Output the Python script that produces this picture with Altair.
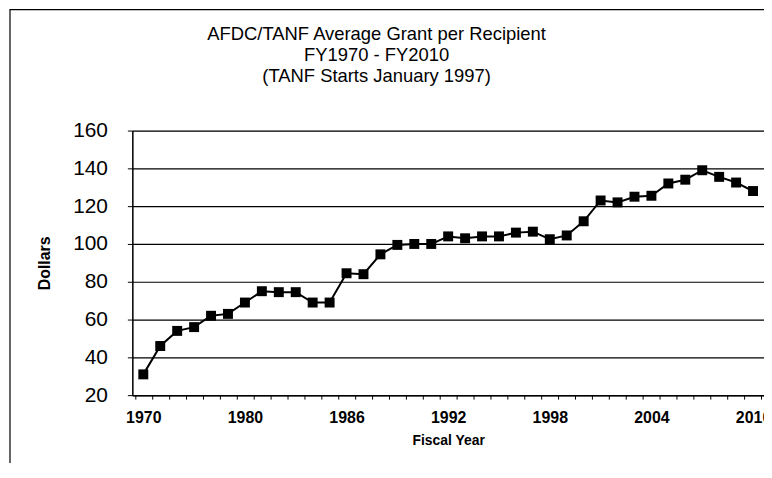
import altair as alt
import pandas as pd

# Fiscal-year categories (only some are labelled on the axis)
years = ["1970", "1975", "1976", "1977", "1978", "1979",
         "1980", "1981", "1982", "1983", "1984", "1985", "1986", "1987",
         "1988", "1989", "1990", "1991", "1992", "1993", "1994", "1995",
         "1996", "1997", "1998", "1999", "2000", "2001", "2002", "2003",
         "2004", "2005", "2006", "2007", "2008", "2009", "2010"]

# Average grant per recipient (dollars)
grant = [31, 46, 54, 56, 62, 63,
         69, 75, 74.5, 74.5, 69, 69, 84.5, 84,
         94.5, 99.5, 100, 100, 104, 103, 104, 104,
         106, 106.5, 102.5, 104.5, 112, 123, 122, 125,
         125.5, 132, 134, 139, 135.5, 132.5, 128]

shown_labels = ["1970", "1980", "1986", "1992", "1998", "2004", "2010"]
y_ticks = [20, 40, 60, 80, 100, 120, 140, 160]

title_lines = ["AFDC/TANF Average Grant per Recipient",
               "FY1970 - FY2010",
               "(TANF Starts January 1997)"]

df = pd.DataFrame({"year": years, "grant": grant})

FONT = "Liberation Sans"
label_list = "[" + ",".join("'%s'" % s for s in shown_labels) + "]"

x_enc = alt.X(
    "year:O",
    sort=years,
    bandPosition=0.5,
    scale=alt.Scale(type="band", paddingInner=0, paddingOuter=0.147),
    axis=alt.Axis(
        title="Fiscal Year",
        titleFont=FONT, titleFontSize=14, titleFontWeight="bold",
        titleColor="black", titlePadding=9,
        labelFont=FONT, labelFontSize=16, labelFontWeight="bold",
        labelColor="black", labelAngle=0, labelOverlap=False,
        labelPadding=10,
        labelExpr="indexof(%s, datum.label) >= 0 ? datum.label : ''" % label_list,
        tickBand="extent", tickSize=4, tickColor="black", tickWidth=1,
        domainColor="black", domainWidth=1.5,
        grid=False,
    ),
)

y_enc = alt.Y(
    "grant:Q",
    scale=alt.Scale(domain=[20, 160], nice=False, zero=False),
    axis=alt.Axis(
        title="Dollars",
        titleFont=FONT, titleFontSize=16, titleFontWeight="bold",
        titleColor="black", titlePadding=20,
        labelFont=FONT, labelFontSize=21, labelColor="black",
        labelPadding=20,
        values=y_ticks,
        tickSize=5, tickColor="black", tickWidth=1,
        domainColor="black", domainWidth=1.5,
        grid=True, gridColor="black", gridOpacity=1, gridWidth=1.2,
    ),
)

base = alt.Chart(df).encode(x=x_enc, y=y_enc)

line = base.mark_line(color="black", strokeWidth=2)
pts = base.mark_point(shape="square", filled=True, color="black",
                      size=100, opacity=1)

frame = alt.Chart(pd.DataFrame({"f": [0]})).mark_rect(
    fill=None, stroke="black", strokeWidth=1.2
).encode(
    x=alt.value(-123), x2=alt.value(900),
    y=alt.value(-121.5), y2=alt.value(600),
)

chart = alt.layer(frame, line, pts).properties(
    width=635,
    height=266,
    title=alt.TitleParams(
        text=title_lines, font=FONT, fontSize=18.5, fontWeight="normal",
        color="black", anchor="middle", dx=-72, offset=-76.5, lineHeight=21,
    ),
    autosize=alt.AutoSizeParams(type="none"),
    padding={"left": 125, "top": 122, "right": 0, "bottom": 67},
).configure_view(stroke=None).configure(background="white")

chart.save("out.html", embed_options={"renderer": "svg", "actions": False})
